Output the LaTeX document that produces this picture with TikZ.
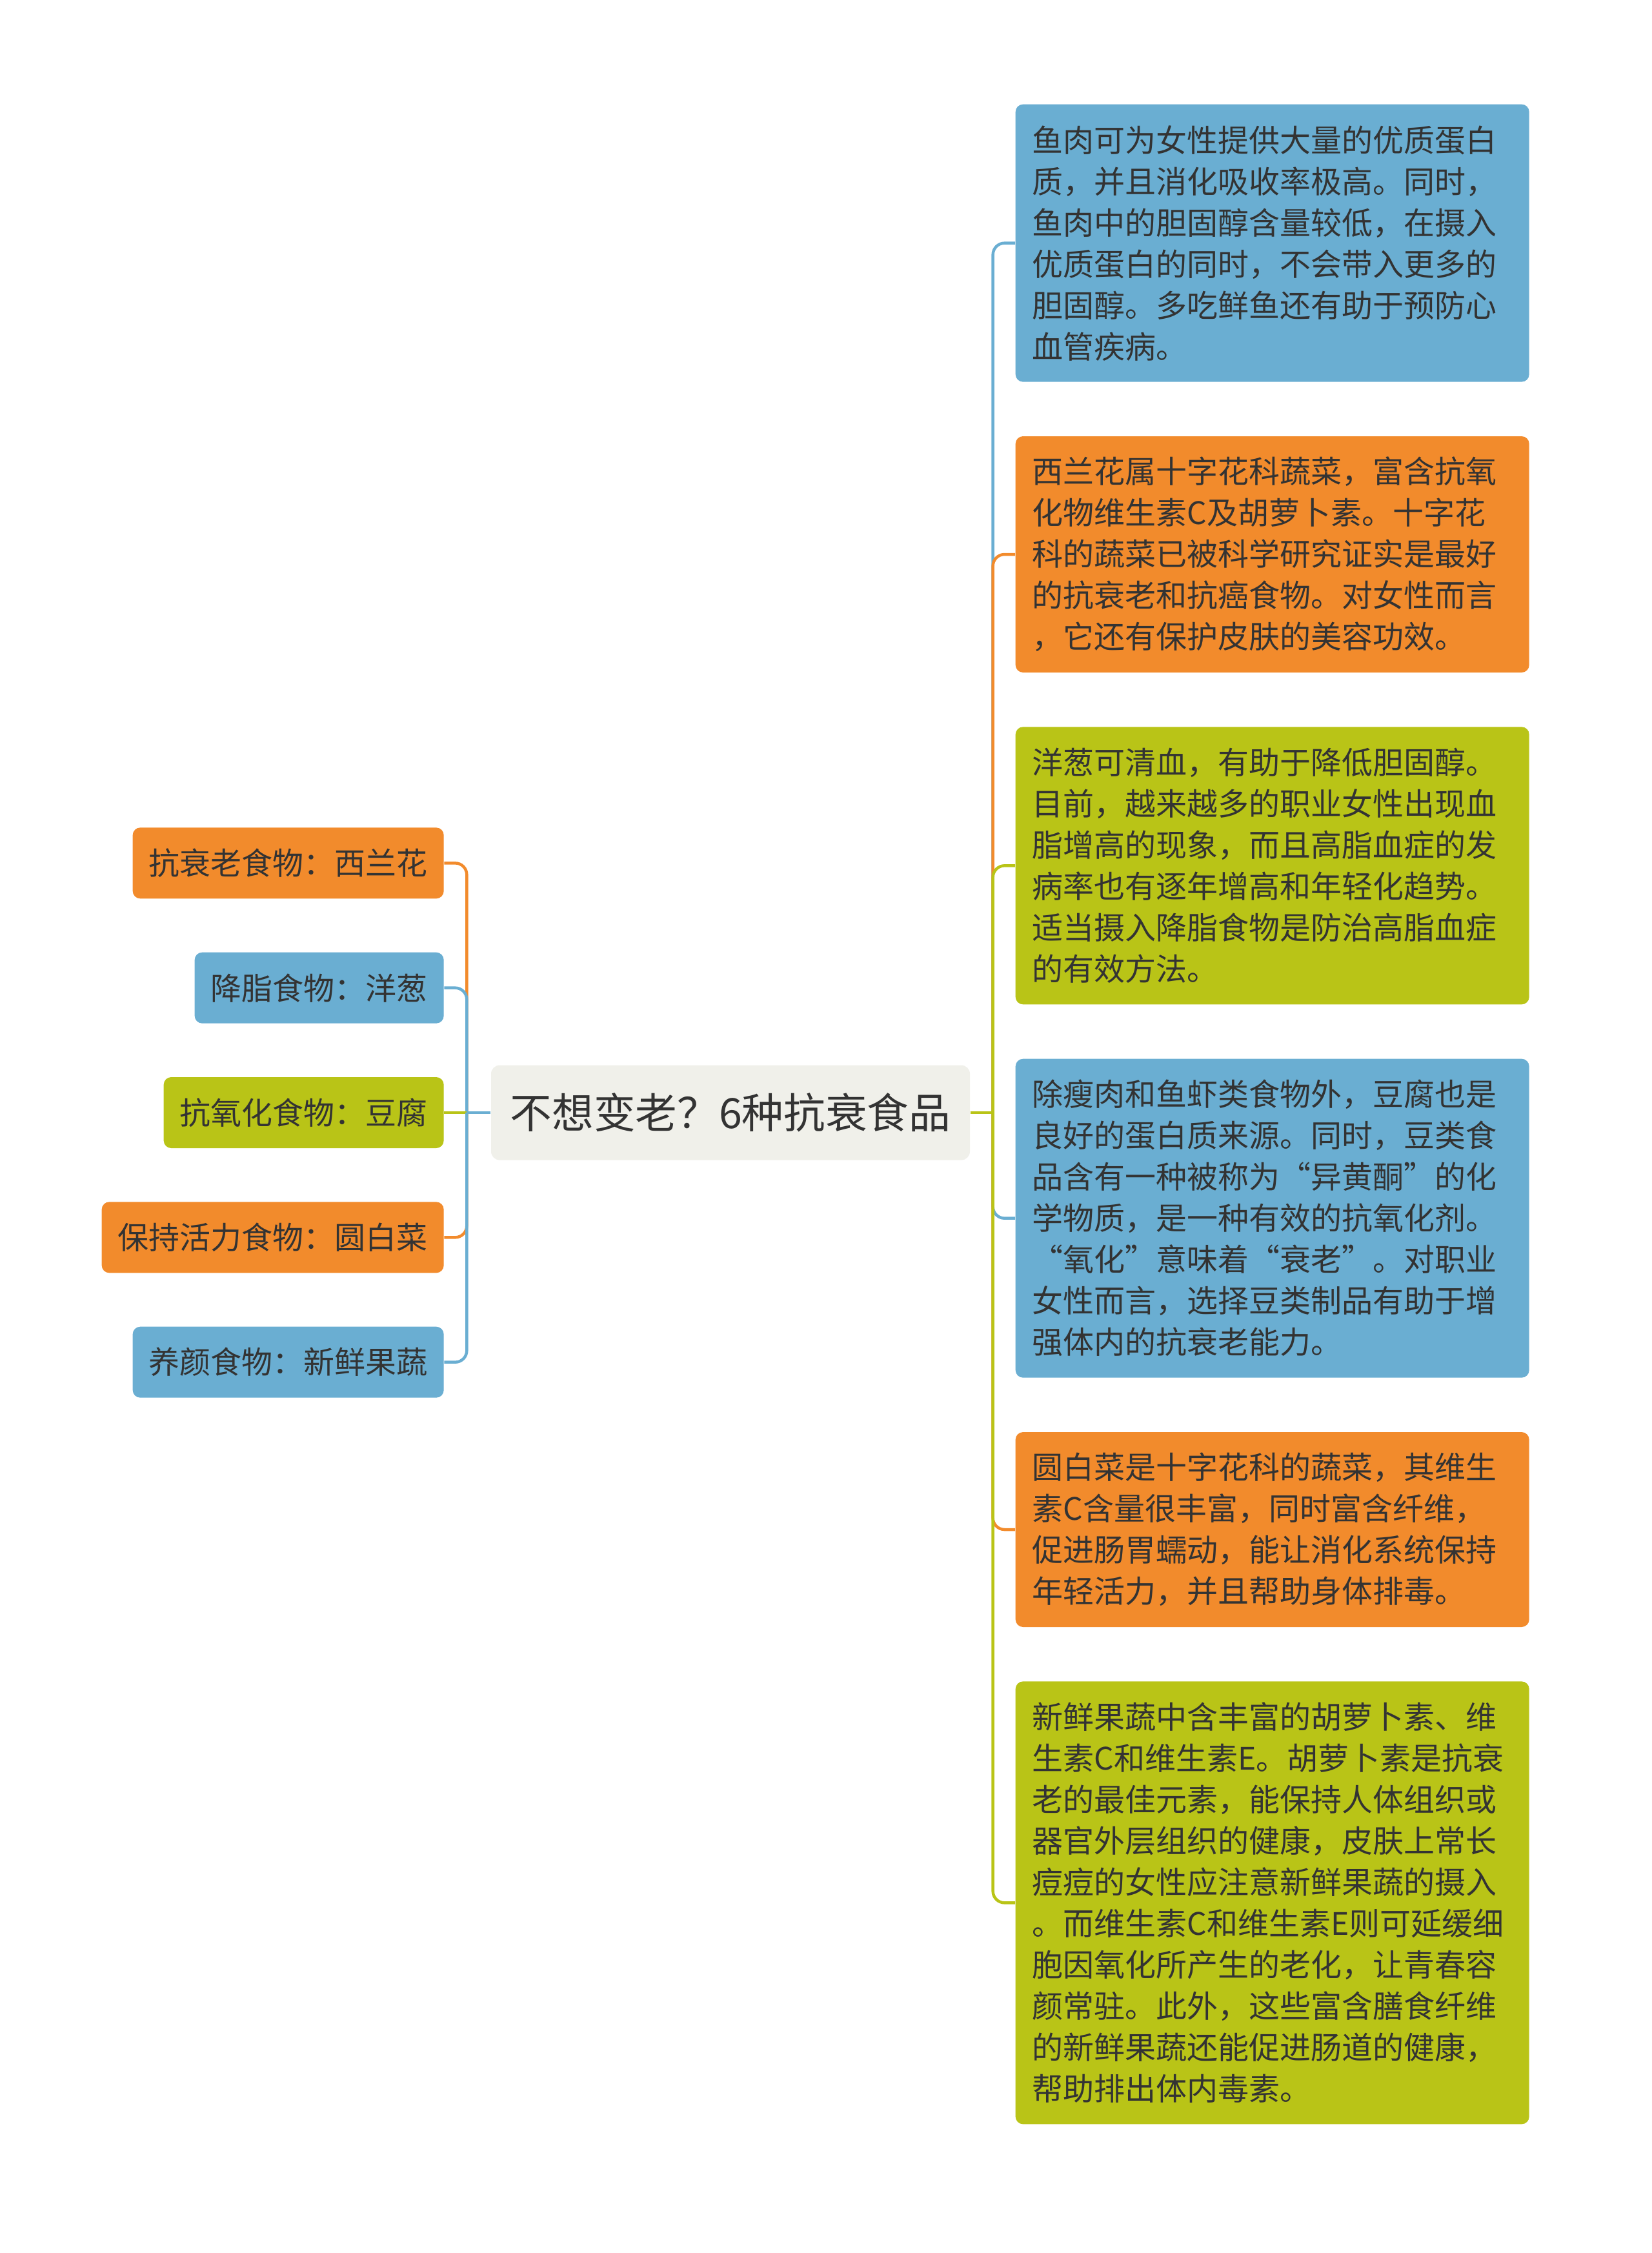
\documentclass[tikz,border=0pt]{standalone}
\usepackage{fontspec}
\newfontfamily\cjk{Noto Sans CJK SC}
\usetikzlibrary{positioning}
\definecolor{mblue}{RGB}{106,174,210}
\definecolor{morange}{RGB}{242,139,44}
\definecolor{mgreen}{RGB}{185,196,23}
\definecolor{rootfill}{RGB}{240,240,234}
\definecolor{txtgray}{RGB}{51,51,51}

\begin{document}
\begin{tikzpicture}[
    every node/.style={text=txtgray},
    rootbox/.style={fill=rootfill, rounded corners=4pt, minimum width=222.6pt, minimum height=44.1pt, inner sep=0pt, font={\cjk\fontsize{19.4pt}{24pt}\selectfont}},
    sidebox/.style={fill=#1, rounded corners=3.5pt, minimum height=33pt, inner xsep=7.5pt, inner ysep=0pt, font={\cjk\fontsize{14.4pt}{19.2pt}\selectfont}},
    notebox/.style={fill=#1, rounded corners=3.5pt, text width=223.2pt, align=left, inner xsep=7.8pt, inner ysep=4pt, font={\cjk\fontsize{14.4pt}{19.2pt}\selectfont}},
    nlines/.style={minimum height=#1*19.2pt+13.8pt},
    link/.style={line width=1.35pt, rounded corners=5.4pt},
    node distance=24.9pt
    ]
    \useasboundingbox (0pt,0pt) rectangle (768pt,-1047.3pt);

    %% Root
    \node[rootbox](root) at (339.6pt,-517.2pt){不想变老？6种抗衰食品};
    \coordinate (ljoin) at ([xshift=-11.1pt]root.west);
    \coordinate (rjoin) at ([xshift=10.5pt]root.east);

    %% Left side: short labels
    \node[sidebox=mgreen](lsoy)[left=21.6pt of root]{抗氧化食物：豆腐};
    \node[sidebox=mblue](lonion)[above=24.6pt of lsoy.north east, anchor=south east]{降脂食物：洋葱};
    \node[sidebox=morange](lbrocc)[above=24.6pt of lonion.north east, anchor=south east]{抗衰老食物：西兰花};
    \node[sidebox=morange](lcabb)[below=24.6pt of lsoy.south east, anchor=north east]{保持活力食物：圆白菜};
    \node[sidebox=mblue](lfruit)[below=24.6pt of lcabb.south east, anchor=north east]{养颜食物：新鲜果蔬};

    %% Right side: notes
    \node[notebox=mblue, nlines=6, anchor=north west](fish) at (471.9pt,-48.3pt){鱼肉可为女性提供大量的优质蛋白\\
质，并且消化吸收率极高。同时，\\
鱼肉中的胆固醇含量较低，在摄入\\
优质蛋白的同时，不会带入更多的\\
胆固醇。多吃鲜鱼还有助于预防心\\
血管疾病。};
    \node[notebox=morange, nlines=5](brocc)[below=of fish]{西兰花属十字花科蔬菜，富含抗氧\\
化物维生素C及胡萝卜素。十字花\\
科的蔬菜已被科学研究证实是最好\\
的抗衰老和抗癌食物。对女性而言\\
，它还有保护皮肤的美容功效。};
    \node[notebox=mgreen, nlines=6](onion)[below=of brocc]{洋葱可清血，有助于降低胆固醇。\\
目前，越来越多的职业女性出现血\\
脂增高的现象，而且高脂血症的发\\
病率也有逐年增高和年轻化趋势。\\
适当摄入降脂食物是防治高脂血症\\
的有效方法。};
    \node[notebox=mblue, nlines=7](soy)[below=of onion]{除瘦肉和鱼虾类食物外，豆腐也是\\
良好的蛋白质来源。同时，豆类食\\
品含有一种被称为“异黄酮”的化\\
学物质，是一种有效的抗氧化剂。\\
“氧化”意味着“衰老”。对职业\\
女性而言，选择豆类制品有助于增\\
强体内的抗衰老能力。};
    \node[notebox=morange, nlines=4](cabb)[below=of soy]{圆白菜是十字花科的蔬菜，其维生\\
素C含量很丰富，同时富含纤维，\\
促进肠胃蠕动，能让消化系统保持\\
年轻活力，并且帮助身体排毒。};
    \node[notebox=mgreen, nlines=10](fruit)[below=of cabb]{新鲜果蔬中含丰富的胡萝卜素、维\\
生素C和维生素E。胡萝卜素是抗衰\\
老的最佳元素，能保持人体组织或\\
器官外层组织的健康，皮肤上常长\\
痘痘的女性应注意新鲜果蔬的摄入\\
。而维生素C和维生素E则可延缓细\\
胞因氧化所产生的老化，让青春容\\
颜常驻。此外，这些富含膳食纤维\\
的新鲜果蔬还能促进肠道的健康，\\
帮助排出体内毒素。};

    %% Connectors, left
    \draw[link, morange] (ljoin) |- (lbrocc.east);
    \draw[link, mblue] (ljoin) |- (lonion.east);
    \draw[link, mgreen] (ljoin) -- (lsoy.east);
    \draw[link, morange] (ljoin) |- (lcabb.east);
    \draw[link, mblue] (ljoin) |- (lfruit.east);
    \draw[link, mblue] (root.west) -- (ljoin);

    %% Connectors, right
    \draw[link, mblue] (rjoin) |- (fish.west);
    \draw[link, morange] (rjoin) |- (brocc.west);
    \draw[link, mgreen] (rjoin) |- (onion.west);
    \draw[link, mblue] (rjoin) |- (soy.west);
    \draw[link, morange] (rjoin) |- (cabb.west);
    \draw[link, mgreen] (rjoin) |- (fruit.west);
    \draw[link, mgreen] (root.east) -- (rjoin);
\end{tikzpicture}
\end{document}
